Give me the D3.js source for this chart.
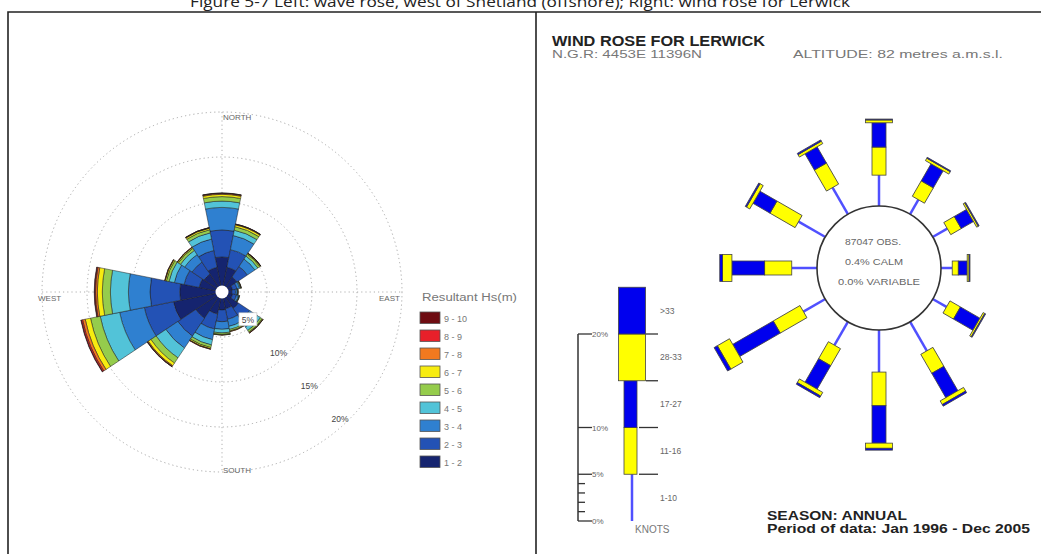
<!DOCTYPE html>
<html>
<head>
<meta charset="utf-8">
<script src="https://cdn.jsdelivr.net/npm/d3@7"></script>
<style>
body { margin: 0; background: #fff; }
svg { display: block; }
text { font-family: "Liberation Sans", Arial, sans-serif; }
</style>
</head>
<body>
<div id="chart"></div>
<script>
// ---- wave rose data (% of time, by direction and Hs class) ----
var waveDirs = ["N","NNE","NE","ENE","E","ESE","SE","SSE","S","SSW","SW","WSW","W","WNW","NW","NNW"];
var hsKeys = ["1 - 2","2 - 3","3 - 4","4 - 5","5 - 6","6 - 7","7 - 8","8 - 9","9 - 10"];
var hs1_2  = [3.9, 2.8, 2.0, 1.2, 1.1, 1.2, 2.2, 1.9, 2.0, 2.5, 3.5, 5.5, 4.7, 2.6, 2.4, 2.8];
var hs2_3  = [3.0, 2.0, 1.4, 0.5, 0.4, 0.45, 1.5, 1.2, 1.3, 1.7, 2.4, 3.3, 3.3, 1.7, 1.6, 1.9];
var hs3_4  = [2.5, 1.6, 1.0, 0.3, 0.2, 0.22, 1.0, 0.8, 0.85, 1.2, 1.6, 2.8, 2.4, 1.1, 1.0, 1.3];
var hs4_5  = [0.7, 0.6, 0.4, 0.1, 0.06, 0.08, 0.45, 0.35, 0.4, 0.6, 1.3, 2.2, 2.0, 0.6, 0.55, 0.7];
var hs5_6  = [0.5, 0.4, 0.25, 0.06, 0.03, 0.04, 0.23, 0.17, 0.17, 0.3, 0.7, 1.1, 0.9, 0.3, 0.28, 0.35];
var hs6_7  = [0.25, 0.2, 0.1, 0.03, 0.01, 0.01, 0.08, 0.06, 0.06, 0.14, 0.35, 0.6, 0.55, 0.14, 0.12, 0.17];
var hs7_8  = [0.1, 0.07, 0.03, 0.01, 0, 0, 0.03, 0.02, 0.02, 0.04, 0.1, 0.3, 0.2, 0.04, 0.04, 0.05];
var hs8_9  = [0.04, 0.02, 0.01, 0, 0, 0, 0.01, 0, 0, 0.02, 0.04, 0.15, 0.1, 0.02, 0.01, 0.02];
var hs9_10 = [0.01, 0.01, 0.01, 0, 0, 0, 0, 0, 0, 0, 0.01, 0.05, 0.05, 0, 0, 0.01];
var hsSeries = [hs1_2, hs2_3, hs3_4, hs4_5, hs5_6, hs6_7, hs7_8, hs8_9, hs9_10];
var waveRings = [5, 10, 15, 20];
var hsColors = ["#15246f","#2352b5","#2f80d0","#52c3d8","#95cc4c","#f7ec10","#f2791f","#e8202a","#6e0c12"];

// ---- wind rose data (Lerwick, % of obs by direction and speed band) ----
var windDirs = [0, 30, 60, 90, 120, 150, 180, 210, 240, 270, 300, 330];
var knotKeys = ["1-10","11-16","17-27","28-33",">33"];
var kn1_10  = [3.3, 1.8, 1.8, 1.2, 1.7, 3.6, 4.5, 2.9, 2.7, 2.7, 3.3, 3.3];
var kn11_16 = [3.0, 1.9, 1.3, 0.65, 1.3, 2.35, 3.6, 2.1, 3.3, 2.9, 3.1, 2.6];
var kn17_27 = [2.6, 2.1, 1.5, 0.95, 2.4, 3.0, 4.0, 2.9, 5.0, 3.5, 2.1, 2.0];
var kn28_33 = [0.3, 0.3, 0.2, 0.2, 0.2, 0.45, 0.55, 0.45, 1.5, 1.0, 0.4, 0.3];
var kn33    = [0.1, 0.1, 0.1, 0.1, 0.1, 0.2, 0.2, 0.2, 0.4, 0.3, 0.15, 0.15];
var knSeries = [kn1_10, kn11_16, kn17_27, kn28_33, kn33];
var legendBands = [0, 5, 10, 15, 20, 25];
var scaleTicks = [0, 1, 2, 3, 4, 5, 10, 20];
var scaleLabels = [0, 5, 10, 20];

var svg = d3.select("#chart").append("svg")
    .attr("width", 1041)
    .attr("height", 554);

// caption (cut off at top, like the source page)
svg.append("text")
    .attr("x", 190).attr("y", 7)
    .attr("textLength", 660)
    .attr("lengthAdjust", "spacingAndGlyphs")
    .style("font-family", "'Open Sans', sans-serif")
    .style("font-size", "15px")
    .attr("fill", "#222")
    .text("Figure 5-7 Left: wave rose, west of Shetland (offshore); Right: wind rose for Lerwick");

// frame
svg.append("path")
    .attr("d", "M8,554V12H1041M536,12V554")
    .attr("fill", "none")
    .attr("stroke", "#222")
    .attr("stroke-width", 1.6);

// ================= LEFT: wave rose =================
var rWave = d3.scaleLinear().domain([0, 20]).range([0, 180]);
var gW = svg.append("g").attr("transform", "translate(222,292)");

gW.selectAll(".ring")
    .data(waveRings)
    .enter().append("circle")
    .attr("class", "ring")
    .attr("r", function(d) { return rWave(d); })
    .attr("fill", "none")
    .attr("stroke", "#a8a8a8")
    .attr("stroke-width", 1)
    .attr("stroke-dasharray", "1.2,3");

gW.append("path")
    .attr("d", "M0,-180V180M-180,0H180")
    .attr("stroke", "#b0b0b0")
    .attr("stroke-width", 1)
    .attr("stroke-dasharray", "1.2,3");

var waveTable = waveDirs.map(function(d, i) {
    var o = { dir: d, angle: i * 22.5 };
    hsKeys.forEach(function(k, j) { o[k] = hsSeries[j][i]; });
    return o;
});
var waveStack = d3.stack().keys(hsKeys)(waveTable);

var arc = d3.arc()
    .innerRadius(function(d) { return rWave(d[0]); })
    .outerRadius(function(d) { return rWave(d[1]); })
    .startAngle(function(d) { return (d.data.angle - 11.25) * Math.PI / 180; })
    .endAngle(function(d) { return (d.data.angle + 11.25) * Math.PI / 180; });

gW.selectAll(".layer")
    .data(waveStack)
    .enter().append("g")
    .attr("class", "layer")
    .attr("fill", function(d, i) { return hsColors[i]; })
    .selectAll("path")
    .data(function(d) { return d.filter(function(s) { return s[1] - s[0] > 0; }); })
    .enter().append("path")
    .attr("d", arc)
    .attr("stroke", "#1a1a1a")
    .attr("stroke-width", 0.5);

gW.append("circle").attr("r", 6.5).attr("fill", "#fff");

// ring labels
var ringLabel = gW.selectAll(".rl")
    .data(waveRings)
    .enter().append("g")
    .attr("transform", function(d) {
        var a = 137 * Math.PI / 180, r = rWave(d) - 7;
        return "translate(" + (r * Math.sin(a)) + "," + (-r * Math.cos(a)) + ")";
    });
ringLabel.filter(function(d) { return d == 5; })
    .append("rect")
    .attr("x", -9).attr("y", -7).attr("width", 18).attr("height", 13)
    .attr("fill", "#fff").attr("stroke", "#bbb").attr("stroke-width", 0.6);
ringLabel.append("text")
    .attr("text-anchor", "middle")
    .attr("dy", 3)
    .style("font-size", "8.5px")
    .attr("fill", "#444")
    .text(function(d) { return d + "%"; });

// compass labels
var compass = [
    { t: "NORTH", x: 223, y: 120 },
    { t: "WEST", x: 38, y: 301 },
    { t: "EAST", x: 379, y: 301 },
    { t: "SOUTH", x: 223, y: 473 }
];
svg.selectAll(".cmp")
    .data(compass)
    .enter().append("text")
    .attr("x", function(d) { return d.x; })
    .attr("y", function(d) { return d.y; })
    .style("font-size", "8px")
    .attr("fill", "#666")
    .text(function(d) { return d.t; });

// legend
svg.append("text")
    .attr("x", 422).attr("y", 301)
    .attr("textLength", 95)
    .attr("lengthAdjust", "spacingAndGlyphs")
    .style("font-size", "10px")
    .attr("fill", "#777")
    .text("Resultant Hs(m)");

var legRows = hsKeys.slice().reverse();
var legY = d3.scaleBand().domain(legRows).range([312, 474]);
var leg = svg.selectAll(".leg")
    .data(legRows)
    .enter().append("g")
    .attr("transform", function(d) { return "translate(420," + legY(d) + ")"; });
leg.append("rect")
    .attr("width", 20).attr("height", 11.5)
    .attr("fill", function(d) { return hsColors[hsKeys.indexOf(d)]; })
    .attr("stroke", "#555").attr("stroke-width", 0.8);
leg.append("text")
    .attr("x", 24).attr("y", 9.5)
    .style("font-size", "9px")
    .attr("fill", "#777")
    .text(function(d) { return d; });

// ================= RIGHT: wind rose =================
svg.append("text")
    .attr("x", 552).attr("y", 46)
    .attr("textLength", 213)
    .attr("lengthAdjust", "spacingAndGlyphs")
    .style("font-size", "14.5px").style("font-weight", "bold")
    .attr("fill", "#222")
    .text("WIND ROSE FOR LERWICK");
svg.append("text")
    .attr("x", 552).attr("y", 58)
    .attr("textLength", 150)
    .attr("lengthAdjust", "spacingAndGlyphs")
    .style("font-size", "10px")
    .attr("fill", "#777")
    .text("N.G.R: 4453E 11396N");
svg.append("text")
    .attr("x", 793).attr("y", 58)
    .attr("textLength", 210)
    .attr("lengthAdjust", "spacingAndGlyphs")
    .style("font-size", "10px")
    .attr("fill", "#777")
    .text("ALTITUDE:   82 metres a.m.s.l.");

var cx = 879, cy = 268, rc = 62;
var rWind = d3.scaleLinear().domain([0, 20]).range([rc, rc + 187]);
var gR = svg.append("g").attr("transform", "translate(" + cx + "," + cy + ")");

var windTable = windDirs.map(function(d, i) {
    var o = { angle: d };
    knotKeys.forEach(function(k, j) { o[k] = knSeries[j][i]; });
    return o;
});
var windStack = d3.stack().keys(knotKeys)(windTable);
var segWidth = [0, 14, 14, 27, 27];
var segColor = ["#5050ff", "#ffff00", "#0000ee", "#ffff00", "#0000ee"];

windStack.forEach(function(layer, j) {
    layer.forEach(function(d) {
        var g = gR.append("g").attr("transform", "rotate(" + d.data.angle + ")");
        if (j == 0) {
            g.append("line")
                .attr("x1", 0).attr("x2", 0)
                .attr("y1", -rWind(d[0])).attr("y2", -rWind(d[1]))
                .attr("stroke", segColor[0]).attr("stroke-width", 2.5);
        } else {
            g.append("rect")
                .attr("x", -segWidth[j] / 2)
                .attr("y", -rWind(d[1]))
                .attr("width", segWidth[j])
                .attr("height", rWind(d[1]) - rWind(d[0]))
                .attr("fill", segColor[j])
                .attr("stroke", "#444").attr("stroke-width", 0.8);
        }
    });
});

gR.append("circle").attr("r", rc)
    .attr("fill", "#fff").attr("stroke", "#333").attr("stroke-width", 1.6);

var inner = [
    { t: "87047 OBS.", x: -34, y: -23, w: 56 },
    { t: "0.4% CALM", x: -34, y: -3, w: 58 },
    { t: "0.0% VARIABLE", x: -41, y: 17, w: 82 }
];
gR.selectAll(".inner")
    .data(inner)
    .enter().append("text")
    .attr("x", function(d) { return d.x; })
    .attr("y", function(d) { return d.y; })
    .attr("textLength", function(d) { return d.w; })
    .attr("lengthAdjust", "spacingAndGlyphs")
    .style("font-size", "9.5px")
    .attr("fill", "#666")
    .text(function(d) { return d.t; });

// scale bar and key
var yLeg = d3.scaleLinear().domain([0, 20]).range([521, 334]);
var keyX = 632;

svg.append("line")
    .attr("x1", 578).attr("x2", 578)
    .attr("y1", yLeg(0)).attr("y2", yLeg(20))
    .attr("stroke", "#333").attr("stroke-width", 1.5);
svg.selectAll(".stk")
    .data(scaleTicks)
    .enter().append("line")
    .attr("x1", 578)
    .attr("x2", function(d) { return (d % 5 == 0) ? 592 : 585; })
    .attr("y1", function(d) { return yLeg(d); })
    .attr("y2", function(d) { return yLeg(d); })
    .attr("stroke", "#333").attr("stroke-width", 1.3);
svg.selectAll(".slb")
    .data(scaleLabels)
    .enter().append("text")
    .attr("x", 592)
    .attr("y", function(d) { return yLeg(d) + 3; })
    .style("font-size", "8px")
    .attr("fill", "#666")
    .text(function(d) { return d + "%"; });

var keyBands = knotKeys.map(function(k, i) { return { k: k, i: i, y0: legendBands[i], y1: legendBands[i + 1] }; });
keyBands.forEach(function(b) {
    if (b.i == 0) {
        svg.append("line")
            .attr("x1", keyX).attr("x2", keyX)
            .attr("y1", yLeg(b.y0)).attr("y2", yLeg(b.y1))
            .attr("stroke", segColor[0]).attr("stroke-width", 2.5);
    } else {
        svg.append("rect")
            .attr("x", keyX - segWidth[b.i] / 2 - (b.i > 2 ? 0 : 1))
            .attr("y", yLeg(b.y1))
            .attr("width", segWidth[b.i] - (b.i > 2 ? 0 : 1))
            .attr("height", yLeg(b.y0) - yLeg(b.y1))
            .attr("fill", segColor[b.i])
            .attr("stroke", "#444").attr("stroke-width", 0.8);
    }
    svg.append("text")
        .attr("x", 660)
        .attr("y", (yLeg(b.y0) + yLeg(b.y1)) / 2 + 3)
        .style("font-size", "8.5px")
        .attr("fill", "#666")
        .text(b.k);
});
svg.selectAll(".ksep")
    .data(legendBands.slice(1, 5))
    .enter().append("line")
    .attr("x1", function(d) { return d >= 15 ? keyX + 14 : keyX + 7; })
    .attr("x2", 658)
    .attr("y1", function(d) { return yLeg(d); })
    .attr("y2", function(d) { return yLeg(d); })
    .attr("stroke", "#333").attr("stroke-width", 1.3);

svg.append("text")
    .attr("x", 635).attr("y", 533)
    .style("font-size", "10px")
    .attr("fill", "#777")
    .text("KNOTS");

svg.append("text")
    .attr("x", 767).attr("y", 520)
    .attr("textLength", 140)
    .attr("lengthAdjust", "spacingAndGlyphs")
    .style("font-size", "13.5px").style("font-weight", "bold")
    .attr("fill", "#222")
    .text("SEASON: ANNUAL");
svg.append("text")
    .attr("x", 767).attr("y", 533)
    .attr("textLength", 263)
    .attr("lengthAdjust", "spacingAndGlyphs")
    .style("font-size", "13.5px").style("font-weight", "bold")
    .attr("fill", "#222")
    .text("Period of data: Jan 1996 - Dec 2005");
</script>
</body>
</html>
